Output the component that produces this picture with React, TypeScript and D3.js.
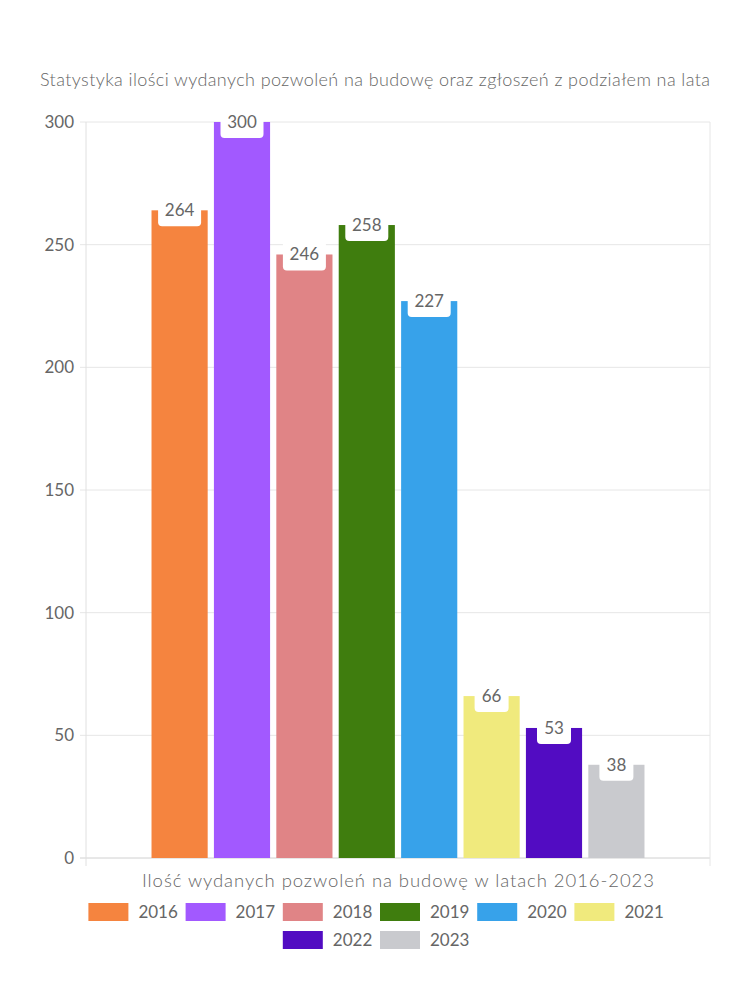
import React from "react";
import * as d3 from "d3";

const years = ["2016", "2017", "2018", "2019", "2020", "2021", "2022", "2023"];
const values = [264, 300, 246, 258, 227, 66, 53, 38];
const colors = ["#F5843F", "#A259FF", "#E08486", "#3F7D0E", "#37A2EA", "#F0EA7D", "#520CC2", "#C9CACE"];
const yTicks = [0, 50, 100, 150, 200, 250, 300];
const title = "Statystyka ilości wydanych pozwoleń na budowę oraz zgłoszeń z podziałem na lata";
const xTitle = "Ilość wydanych pozwoleń na budowę w latach 2016-2023";

const FONT = "Lato, 'Noto Sans', sans-serif";
const TXT = "#666";

export default function App() {
  const W = 750, H = 1000;
  const left = 86, right = 710, top = 122, bottom = 858;
  const y = d3.scaleLinear().domain([0, 300]).range([bottom, top]);
  const catW = right - left;
  const groupW = catW * 0.8;
  const groupStart = left + (catW - groupW) / 2;
  const x = d3.scaleBand().domain(years).range([groupStart, groupStart + groupW]).paddingInner(0.1).paddingOuter(0.05);
  const bw = x.bandwidth();

  // legend layout
  const boxW = 40, boxH = 18, gap = 10;
  const textW = (s: string) => s.length * 9.3;
  const itemW = (s: string) => boxW + gap + textW(s);
  const rows: { label: string; color: string }[][] = [[]];
  let rowWidth = 0;
  const maxRow = 640;
  years.forEach((yr, i) => {
    const w = itemW(yr) + gap;
    if (rowWidth + w > maxRow && rows[rows.length - 1].length) {
      rows.push([]);
      rowWidth = 0;
    }
    rows[rows.length - 1].push({ label: yr, color: colors[i] });
    rowWidth += w;
  });

  return (
    <svg width={W} height={H} style={{ position: "absolute", left: 0, top: 0, background: "#fff" }} fontFamily={FONT}>
      <text x={375} y={86} textAnchor="middle" fontSize={18} fontWeight={300} fill={TXT} textLength={670} lengthAdjust="spacing">{title}</text>
      {yTicks.map((t) => (
        <g key={t}>
          <line x1={left - 6} x2={right} y1={y(t)} y2={y(t)} stroke={t === 0 ? "#d0d0d0" : "#e6e6e6"} strokeWidth={1} />
          <text x={74} y={y(t)} dy="0.35em" textAnchor="end" fontSize={17} fill={TXT}>{t}</text>
        </g>
      ))}
      <line x1={left} x2={left} y1={top} y2={bottom + 8} stroke="#e0e0e0" />
      <line x1={right} x2={right} y1={top} y2={bottom + 8} stroke="#e6e6e6" />
      {years.map((yr, i) => {
        const bx = x(yr)!;
        const by = y(values[i]);
        return (
          <rect key={yr} x={bx} y={by} width={bw} height={bottom - by} fill={colors[i]} />
        );
      })}
      {years.map((yr, i) => {
        const cx = x(yr)! + bw / 2;
        const by = y(values[i]);
        const s = String(values[i]);
        const w = s.length * 9 + 16;
        return (
          <g key={"l" + yr}>
            <rect x={cx - w / 2} y={by - 16} width={w} height={32} rx={4} fill="#fff" />
            <text x={cx} y={by} dy="0.35em" textAnchor="middle" fontSize={17} fill={TXT}>{s}</text>
          </g>
        );
      })}
      <text x={398} y={887} textAnchor="middle" fontSize={18.5} fontWeight={300} fill={TXT} textLength={512} lengthAdjust="spacing">{xTitle}</text>
      {rows.map((row, ri) => {
        const total = row.reduce((a, it) => a + itemW(it.label), 0) + gap * (row.length - 1);
        let cx = 375 - total / 2;
        const ry = 903 + ri * 28;
        return (
          <g key={ri}>
            {row.map((it) => {
              const gx = cx;
              cx += itemW(it.label) + gap;
              return (
                <g key={it.label}>
                  <rect x={gx} y={ry} width={boxW} height={boxH} fill={it.color} />
                  <text x={gx + boxW + gap} y={ry + boxH / 2} dy="0.35em" fontSize={17} fill={TXT}>{it.label}</text>
                </g>
              );
            })}
          </g>
        );
      })}
    </svg>
  );
}
